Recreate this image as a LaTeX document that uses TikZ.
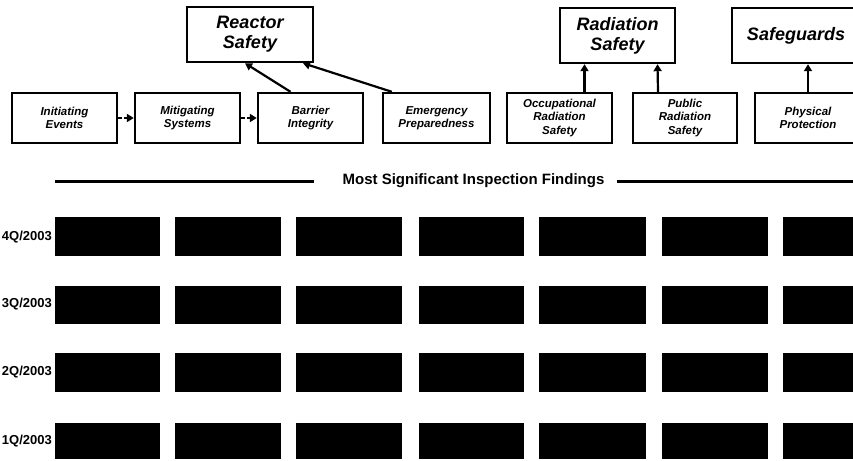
\documentclass[tikz,border=0pt]{standalone}
\usepackage{fontspec}
\setmainfont{Liberation Sans}
\usetikzlibrary{arrows.meta}
\tikzset{
  topbox/.style={draw, line width=2.4pt, minimum height=55pt, align=center, font=\fontsize{18}{20}\selectfont\bfseries\itshape, inner sep=2pt},
  subbox/.style={draw, line width=2.4pt, minimum height=50pt, minimum width=105pt, align=center, font=\fontsize{11.5}{13.5}\selectfont\bfseries\itshape, inner sep=1pt},
  link/.style={line width=2.2pt, -{Triangle[length=7pt,width=8pt]}},
  flow/.style={line width=1.8pt, dash pattern=on 4pt off 2pt, -{Triangle[length=7pt,width=8pt]}},
  cell/.style={fill=black, draw=black, line width=0.8pt},
  rowlab/.style={anchor=east, font=\fontsize{13}{14}\selectfont\bfseries, inner sep=1pt},
  heading/.style={font=\fontsize{15}{17}\selectfont\bfseries, inner sep=2pt},
  rule/.style={line width=3pt}
}
\begin{document}
\begin{tikzpicture}[x=1pt,y=-1pt]
\useasboundingbox (0,0) rectangle (853,460);
\clip (0,0) rectangle (853,460);
% top boxes
\node[topbox, minimum width=126pt] (rs) at (250,34.5) {Reactor\\Safety};
\node[topbox, minimum width=115pt] (rad) at (617.5,35.5) {Radiation\\Safety};
\node[topbox, minimum width=128pt] (sg) at (796,35.5) {Safeguards};
% cornerstone boxes
\node[subbox] (ie) at (64.5,118) {Initiating\\Events};
\node[subbox] (ms) at (187.5,118) {Mitigating\\Systems};
\node[subbox] (bi) at (310.5,118) {Barrier\\Integrity};
\node[subbox, minimum width=107pt] (ep) at (436.5,118) {Emergency\\Preparedness};
\node[subbox] (ors) at (559.5,118) {Occupational\\Radiation\\Safety};
\node[subbox, minimum width=104pt] (prs) at (685,118) {Public\\Radiation\\Safety};
\node[subbox, minimum width=106pt] (pp) at (808,118) {Physical\\Protection};
% connectors
\draw[flow] (ie.east) -- (ms.west);
\draw[flow] (ms.east) -- (bi.west);
\draw[link] ([xshift=-20pt]bi.north) -- ([xshift=-5pt]rs.south);
\draw[link] ([xshift=10pt]ep.north west) -- ([xshift=53pt]rs.south);
\draw[link] ([xshift=25pt]ors.north) -- ([xshift=-33pt]rad.south);
\draw[link] ([xshift=-27pt]prs.north) -- ([xshift=40pt]rad.south);
\draw[link] (pp.north) -- (pp.north |- sg.south);
% heading
\node[heading] (hd) at (473.5,181) {Most Significant Inspection Findings};
\coordinate (hl) at (55,181);
\coordinate (hr) at (853,181);
\draw[rule] (hl) -- ([xshift=-26pt]hd.west);
\draw[rule] ([xshift=10pt]hd.east) -- (hr);
% row labels
\node[rowlab] (r4) at (53,237) {4Q/2003};
\node[rowlab] (r3) at (53,304.5) {3Q/2003};
\node[rowlab] (r2) at (53,372) {2Q/2003};
\node[rowlab] (r1) at (53,441) {1Q/2003};
% finding cells
\foreach \ya/\yb in {217/255, 286/323, 353/391, 423/458}{
  \foreach \xa/\xb in {55/159, 175/280, 296/401, 419/523, 539/645, 662/767, 783/888}{
    \path[cell] (\xa,\ya) rectangle (\xb,\yb);
  }
}
\end{tikzpicture}
\end{document}
